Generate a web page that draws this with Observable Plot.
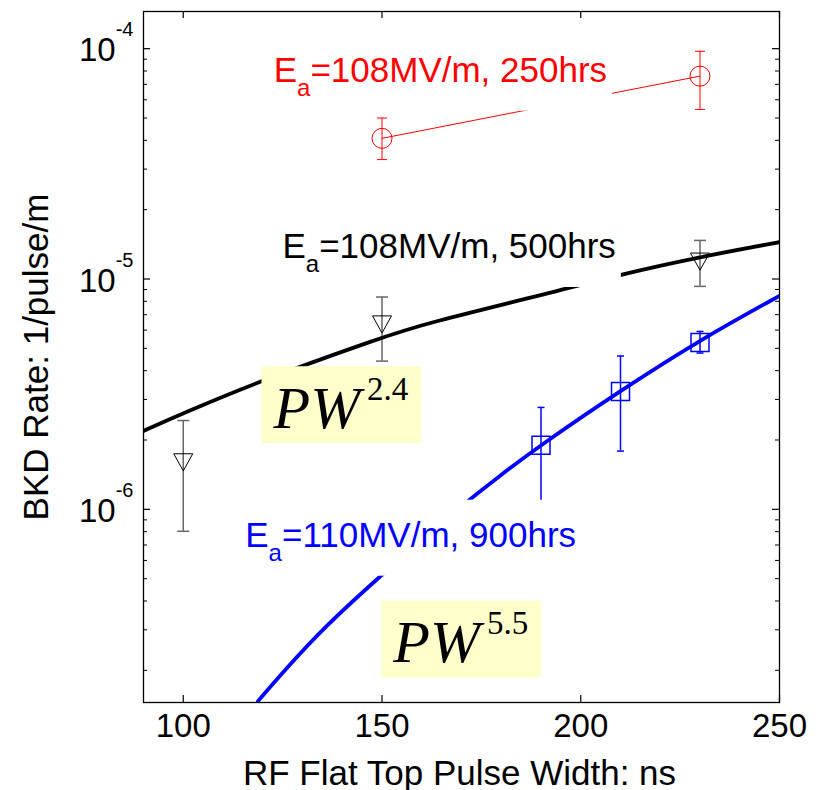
<!DOCTYPE html>
<html>
<head>
<meta charset="utf-8">
<script src="https://cdn.jsdelivr.net/npm/d3@7"></script>
<script src="https://cdn.jsdelivr.net/npm/@observablehq/plot@0.6"></script>
<style>
  html, body { margin: 0; padding: 0; background: #fff; }
</style>
</head>
<body>
<div id="chart"></div>
<script>
// ---------------- data ----------------
const xTickValues = [100, 150, 200, 250];
const yTickValues = [1e-6, 1e-5, 1e-4];
const yTickLabels = ["10^-6", "10^-5", "10^-4"];
const yMinorTicks = [2e-7, 3e-7, 4e-7, 5e-7, 6e-7, 7e-7, 8e-7, 9e-7,
                     2e-6, 3e-6, 4e-6, 5e-6, 6e-6, 7e-6, 8e-6, 9e-6,
                     2e-5, 3e-5, 4e-5, 5e-5, 6e-5, 7e-5, 8e-5, 9e-5];

// Ea = 108 MV/m, 250 hrs (red circles)
const redPulse = [150, 230];
const redRate  = [4.08e-5, 7.6e-5];
const redLow   = [3.3e-5, 5.45e-5];
const redHigh  = [5.0e-5, 9.74e-5];

// Ea = 108 MV/m, 500 hrs (black triangles)
const blackPulse = [100, 150, 230];
const blackRate  = [1.6e-6, 6.35e-6, 1.19e-5];
const blackLow   = [8.03e-7, 4.4e-6, 9.29e-6];
const blackHigh  = [2.43e-6, 8.35e-6, 1.471e-5];

// Ea = 110 MV/m, 900 hrs (blue squares)
const bluePulse = [190, 210, 230];
const blueRate  = [1.9e-6, 3.25e-6, 5.3e-6];
const blueLow   = [1.0e-6, 1.79e-6, 4.77e-6];
const blueHigh  = [2.77e-6, 4.63e-6, 5.92e-6];

// fitted curves
const blackFitPulse = [90, 99.7, 119.6, 149.9, 159.7, 198.3, 209.4, 229.7, 250];
const blackFitRate  = [2.19e-6, 2.60e-6, 3.63e-6, 5.56e-6, 6.34e-6, 9.23e-6, 1.04e-5, 1.245e-5, 1.445e-5];
const blueFitPulse  = [118.8, 125.7, 135.3, 149.9, 170.0, 180.0, 189.8, 209.7, 229.7, 250];
const blueFitRate   = [1.47e-7, 2.017e-7, 3.06e-7, 5.2e-7, 1.04e-6, 1.414e-6, 1.894e-6, 3.25e-6, 5.41e-6, 8.45e-6];

// annotations (anchor = left end of text baseline, in data units)
const runLabels     = ["E_a=108MV/m, 250hrs", "E_a=108MV/m, 500hrs", "E_a=110MV/m, 900hrs"];
const runLabelPulse = [122.75, 124.96, 115.6];
const runLabelRate  = [7.16e-5, 1.229e-5, 6.855e-7];
const runLabelColor = ["#ff0000", "#000000", "#0000ff"];
const powerLabels     = ["PW^2.4", "PW^5.5"];
const powerLabelPulse = [122.7, 152.85];
const powerLabelRate  = [2.252e-6, 2.164e-7];

const xLabel = "RF Flat Top Pulse Width: ns";
const yLabel = "BKD Rate: 1/pulse/m";

// ---------------- build ----------------
const W = 821, H = 790;
const mL = 143, mR = 42, mT = 11, mB = 88;
const innerW = W - mL - mR, innerH = H - mT - mB;

const rows = (px, py, lo, hi) => px.map((x, i) => ({x, y: py[i], lo: lo[i], hi: hi[i]}));
const red = rows(redPulse, redRate, redLow, redHigh);
const black = rows(blackPulse, blackRate, blackLow, blackHigh);
const blue = rows(bluePulse, blueRate, blueLow, blueHigh);
const blackFit = blackFitPulse.map((x, i) => ({x, y: blackFitRate[i]}));
const blueFit = blueFitPulse.map((x, i) => ({x, y: blueFitRate[i]}));

const capSymbol = {draw(ctx, size) { const r = Math.sqrt(size / Math.PI); ctx.moveTo(-r, 0); ctx.lineTo(r, 0); }};
const triDown = {draw(ctx, size) { const r = Math.sqrt(size / Math.PI); ctx.moveTo(-r, -0.9 * r); ctx.lineTo(r, -0.9 * r); ctx.lineTo(0, 0.9 * r); ctx.closePath(); }};
const squareSym = {draw(ctx, size) { const r = Math.sqrt(size / Math.PI); ctx.rect(-r, -r, 2 * r, 2 * r); }};

function errorMarks(data, color, width, capR) {
  return [
    Plot.ruleX(data, {x: "x", y1: "lo", y2: "hi", stroke: color, strokeWidth: width}),
    Plot.dot(data, {x: "x", y: "lo", symbol: capSymbol, r: capR, stroke: color, strokeWidth: width, fill: "none"}),
    Plot.dot(data, {x: "x", y: "hi", symbol: capSymbol, r: capR, stroke: color, strokeWidth: width, fill: "none"})
  ];
}

const sansFont = "'Liberation Sans', Arial, Helvetica, sans-serif";
const serifFont = "'Liberation Serif', 'Times New Roman', serif";

const chart = Plot.plot({
  width: W, height: H,
  marginLeft: mL, marginRight: mR, marginTop: mT, marginBottom: mB,
  style: {fontFamily: sansFont, fontSize: "33px", background: "#fff", color: "#000", overflow: "visible"},
  x: {domain: [90, 250]},
  y: {type: "log", domain: [1.45e-7, 1.45e-4]},
  marks: [
    // error bars and markers
    ...errorMarks(red, "#ff0000", 1, 5),
    ...errorMarks(black, "#666666", 1.5, 6),
    ...errorMarks(blue, "#0000ff", 1.5, 3.5),
    Plot.line(red, {x: "x", y: "y", stroke: "#ff0000", strokeWidth: 1}),
    Plot.dot(red, {x: "x", y: "y", symbol: "circle", r: 10, stroke: "#ff0000", strokeWidth: 1, fill: "none"}),
    Plot.dot(black, {x: "x", y: "y", symbol: triDown, r: 9.5, stroke: "#000", strokeWidth: 1, fill: "none"}),
    Plot.dot(blue, {x: "x", y: "y", symbol: squareSym, r: 9, stroke: "#0000ff", strokeWidth: 1.5, fill: "none"}),
    // fits
    Plot.line(blackFit, {x: "x", y: "y", stroke: "#000", strokeWidth: 3.8, curve: "basis", clip: true}),
    Plot.line(blueFit, {x: "x", y: "y", stroke: "#0000ff", strokeWidth: 3.8, curve: "basis", clip: true}),
    // annotations
    ...runLabels.map((t, i) => Plot.text([t], {
      x: [runLabelPulse[i]], y: [runLabelRate[i]], text: d => d,
      fill: runLabelColor[i], fontSize: 35, textAnchor: "start", lineAnchor: "bottom"
    })),
    Plot.text(powerLabels, {
      x: powerLabelPulse, y: powerLabelRate, text: d => d,
      fill: "#000", fontFamily: serifFont, fontSize: 60, textAnchor: "start", lineAnchor: "bottom"
    }),
    // frame & inward ticks
    Plot.frame({stroke: "#000", strokeWidth: 1.3}),
    Plot.tickY(yTickValues, {y: d => d, insetRight: innerW - 7, stroke: "#000", strokeWidth: 1.2}),
    Plot.tickY(yTickValues, {y: d => d, insetLeft: innerW - 7, stroke: "#000", strokeWidth: 1.2}),
    Plot.tickY(yMinorTicks, {y: d => d, insetRight: innerW - 4, stroke: "#000", strokeWidth: 1}),
    Plot.tickY(yMinorTicks, {y: d => d, insetLeft: innerW - 4, stroke: "#000", strokeWidth: 1}),
    Plot.tickX(xTickValues, {x: d => d, insetTop: innerH - 7, stroke: "#000", strokeWidth: 1.2}),
    Plot.tickX(xTickValues, {x: d => d, insetBottom: innerH - 7, stroke: "#000", strokeWidth: 1.2}),
    // axes
    Plot.axisX({ticks: xTickValues, tickSize: 0, tickPadding: 11, fontSize: 33, label: null, tickFormat: d => String(d)}),
    Plot.axisY({ticks: yTickValues, tickSize: 0, tickPadding: 10, dy: 2, fontSize: 33, label: null,
                tickFormat: d => yTickLabels[yTickValues.indexOf(d)]}),
    Plot.text([xLabel], {frameAnchor: "bottom", textAnchor: "middle", lineAnchor: "bottom", dx: -2, dy: 82, fontSize: 35, fill: "#000"}),
    Plot.text([yLabel], {frameAnchor: "left", textAnchor: "middle", rotate: -90, dx: -107, fontSize: 35, fill: "#000", lineAnchor: "middle"})
  ]
});

document.getElementById("chart").append(chart);

// ---------------- rich-text post processing ----------------
const NS = "http://www.w3.org/2000/svg";
function tspan(text, attrs) {
  const s = document.createElementNS(NS, "tspan");
  for (const k in attrs) s.setAttribute(k, attrs[k]);
  s.textContent = text;
  return s;
}
function backRect(t, x, y, w, h, fill) {
  const r = document.createElementNS(NS, "rect");
  r.setAttribute("x", x); r.setAttribute("y", y);
  r.setAttribute("width", w); r.setAttribute("height", h);
  r.setAttribute("fill", fill); r.setAttribute("stroke", "none");
  const tr = t.getAttribute("transform");
  if (tr) r.setAttribute("transform", tr);
  t.parentNode.insertBefore(r, t);
}

const allTexts = Array.from(chart.querySelectorAll("text"));

// y tick labels: 10 with superscript exponent
allTexts.filter(t => yTickLabels.includes(t.textContent)).forEach(t => {
  const [base, exp] = t.textContent.split("^");
  t.textContent = base;
  t.append(tspan(exp, {"font-size": 20, dy: -25}));
});

// run labels: E with subscript a, on white background box
allTexts.filter(t => runLabels.includes(t.textContent)).forEach(t => {
  const bb0 = t.getBBox();
  const baseline = bb0.y + bb0.height * 0.905 / (0.905 + 0.212);
  const [head, tail] = t.textContent.split("_");
  t.textContent = head;
  t.append(tspan(tail[0], {"font-size": 24, dy: 14}));
  t.append(tspan(tail.slice(1), {"font-size": 35, dy: -14}));
  const bb = t.getBBox();
  backRect(t, bb.x - 6, baseline - 47, bb.width + 11, 76, "#ffffff");
});

// power-law labels: italic PW with superscript exponent, on yellow box
allTexts.filter(t => powerLabels.includes(t.textContent)).forEach(t => {
  const bb0 = t.getBBox();
  const baseline = bb0.y + bb0.height * 0.891 / (0.891 + 0.216);
  const [base, exp] = t.textContent.split("^");
  t.textContent = "";
  t.append(tspan(base, {"font-style": "italic"}));
  t.append(tspan(exp, {"font-size": 33, dx: 7, dy: -28}));
  const bb = t.getBBox();
  backRect(t, bb.x - 11, baseline - 62, bb.width + 24, 77, "#ffffcc");
});
</script>
</body>
</html>
